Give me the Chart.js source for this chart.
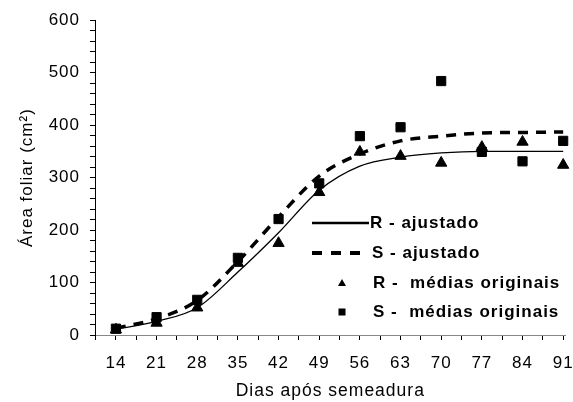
<!DOCTYPE html>
<html>
<head>
<meta charset="utf-8">
<script src="https://cdn.jsdelivr.net/npm/chart.js@4/dist/chart.umd.min.js"></script>
<style>
  html, body { margin: 0; padding: 0; background: #fff; }
  #wrap { width: 573px; height: 402px; }
</style>
</head>
<body>
<div id="wrap"><canvas id="areaChart"></canvas></div>
<script>
// dias de avaliação
const dias = [14, 21, 28, 35, 42, 49, 56, 63, 70, 77, 84, 91];
// curvas ajustadas
const rAjustado = [11, 26, 52, 120, 195, 276, 322, 339, 347, 350, 350, 350];
const sAjustado = [13, 31, 66, 140, 225, 303, 345, 370, 379, 385, 386, 387];
// médias originais
const rMedias = [10, 23, 52, 137, 175, 272, 349, 341, 328, 358, 368, 324];
const sMedias = [12, 34, 67, 147, 221, 289, 379, 396, 484, 349, 331, 370];

const legendLabels = ['R - ajustado', 'S - ajustado', 'R -  médias originais', 'S -  médias originais'];

function pontos(valores) {
  return dias.map((d, i) => ({ x: d, y: valores[i] }));
}

// espaçamento de letras, como no gráfico original
const spacingPlugin = {
  id: 'spacing',
  beforeLayout(chart) { chart.ctx.letterSpacing = '1px'; },
  beforeDraw(chart) { chart.ctx.letterSpacing = '1px'; }
};

// legenda dentro da área do gráfico
const legendaPlugin = {
  id: 'legendaInterna',
  afterDraw(chart) {
    const ctx = chart.ctx;
    ctx.save();
    ctx.fillStyle = '#000';
    ctx.strokeStyle = '#000';
    ctx.font = 'bold 17px Arial, "Liberation Sans", sans-serif';
    ctx.letterSpacing = '1px';
    ctx.textBaseline = 'middle';
    const rows = [223, 253, 283, 312];

    ctx.lineWidth = 2.5;
    ctx.beginPath();
    ctx.moveTo(312, rows[0]);
    ctx.lineTo(369, rows[0]);
    ctx.stroke();

    ctx.lineWidth = 4;
    ctx.setLineDash([10, 9]);
    ctx.beginPath();
    ctx.moveTo(312, rows[1]);
    ctx.lineTo(361, rows[1]);
    ctx.stroke();
    ctx.setLineDash([]);

    ctx.beginPath();
    ctx.moveTo(342, rows[2] - 4);
    ctx.lineTo(346, rows[2] + 3);
    ctx.lineTo(338, rows[2] + 3);
    ctx.closePath();
    ctx.fill();

    ctx.fillRect(338.5, rows[3] - 3.5, 7, 7);

    ctx.fillText(legendLabels[0], 370, rows[0]);
    ctx.fillText(legendLabels[1], 372, rows[1]);
    ctx.fillText(legendLabels[2], 373, rows[2]);
    ctx.fillText(legendLabels[3], 373, rows[3]);
    ctx.restore();
  }
};

const fonte = { family: 'Arial, "Liberation Sans", sans-serif', size: 17 };

new Chart(document.getElementById('areaChart'), {
  type: 'scatter',
  data: {
    datasets: [
      {
        label: legendLabels[2],
        data: pontos(rMedias),
        pointStyle: 'triangle',
        pointRadius: 6.5,
        backgroundColor: '#000',
        borderColor: '#000',
        borderWidth: 1,
        clip: false,
        order: 1
      },
      {
        label: legendLabels[3],
        data: pontos(sMedias),
        pointStyle: 'rect',
        pointRadius: 6.5,
        backgroundColor: '#000',
        borderColor: '#000',
        borderWidth: 1,
        clip: false,
        order: 2
      },
      {
        label: legendLabels[0],
        type: 'line',
        data: pontos(rAjustado),
        borderColor: '#000',
        borderWidth: 1.3,
        pointRadius: 0,
        cubicInterpolationMode: 'monotone',
        fill: false,
        clip: false,
        order: 3
      },
      {
        label: legendLabels[1],
        type: 'line',
        data: pontos(sAjustado),
        borderColor: '#000',
        borderWidth: 3.5,
        borderDash: [10, 8],
        pointRadius: 0,
        cubicInterpolationMode: 'monotone',
        fill: false,
        clip: false,
        order: 4
      }
    ]
  },
  options: {
    responsive: true,
    maintainAspectRatio: false,
    animation: false,
    layout: { padding: { top: 20, right: 0, left: 0, bottom: 0 } },
    plugins: {
      legend: { display: false },
      tooltip: { enabled: false }
    },
    scales: {
      x: {
        type: 'linear',
        min: 10.4,
        max: 91.4,
        afterBuildTicks(scale) {
          const t = [];
          for (let v = 10.5; v <= 91; v += 3.5) t.push({ value: v });
          scale.ticks = t;
        },
        afterFit(scale) {
          scale.height = 67;
          scale.paddingLeft = 0;
          scale.paddingRight = 0;
        },
        ticks: {
          autoSkip: false,
          maxRotation: 0,
          color: '#000',
          font: fonte,
          padding: 13,
          callback: v => (v % 7 === 0 ? v : '')
        },
        grid: { drawOnChartArea: false, tickLength: 5, tickColor: '#000' },
        border: { color: '#888', width: 1 },
        title: {
          display: true,
          text: 'Dias após semeadura',
          color: '#000',
          font: { family: fonte.family, size: 17.5 },
          padding: { top: 0, bottom: 0 }
        }
      },
      y: {
        min: 0,
        max: 600,
        afterBuildTicks(scale) {
          const t = [];
          for (let v = 0; v <= 600; v += 20) t.push({ value: v });
          scale.ticks = t;
        },
        afterFit(scale) { scale.width = 95; },
        ticks: {
          autoSkip: false,
          color: '#000',
          font: fonte,
          padding: 10,
          callback: v => (v % 100 === 0 ? v : '')
        },
        grid: { drawOnChartArea: false, tickLength: 5, tickColor: '#000' },
        border: { color: '#000', width: 1 },
        title: {
          display: true,
          text: 'Área foliar (cm²)',
          color: '#000',
          font: fonte,
          padding: { top: 17, bottom: 0 }
        }
      }
    }
  },
  plugins: [spacingPlugin, legendaPlugin]
});
</script>
</body>
</html>
